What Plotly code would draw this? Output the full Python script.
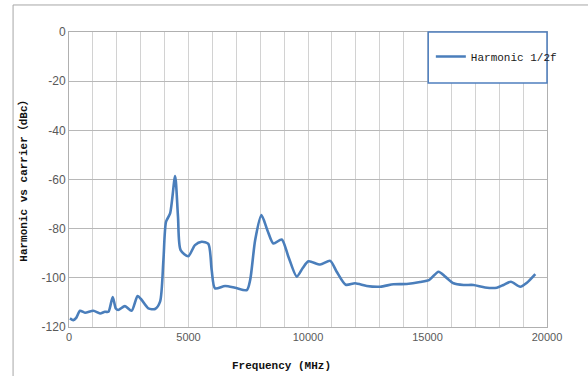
import plotly.graph_objects as go

# Frequency (MHz) and harmonic level (dBc)
freq_mhz = [40, 180, 300, 460, 670, 1020, 1300, 1500, 1650, 1830, 1960, 2060, 2340, 2620,
            2870, 3040, 3320, 3600, 3810, 3950, 4060, 4230, 4440, 4560, 4670, 4990,
            5270, 5550, 5830, 5970, 6110, 6530, 6950, 7440, 7580, 7790, 8050, 8300,
            8550, 8900, 9180, 9530, 9780, 10020, 10510, 10930, 11200, 11580, 11970,
            12460, 13020, 13580, 14130, 14690, 15080, 15460, 15740, 16090, 16510,
            16920, 17410, 17900, 18180, 18490, 18880, 19160, 19510]
level_dbc = [-116.5, -117.2, -116.3, -113.4, -114.2, -113.4, -114.5, -113.8, -113.8, -107.8,
             -112.5, -113.1, -111.5, -113.4, -107.4, -109.0, -112.4, -112.7, -109.7,
             -92.8, -77.2, -73.8, -58.6, -75.0, -88.7, -91.2, -86.7, -85.3, -86.2,
             -96.8, -104.3, -103.3, -104.0, -105.0, -100.9, -84.6, -74.5, -80.6, -86.0,
             -84.4, -91.4, -99.5, -96.0, -93.3, -94.6, -93.1, -97.5, -102.8, -102.2,
             -103.3, -103.6, -102.6, -102.5, -101.7, -100.8, -97.5, -99.5, -102.2,
             -102.9, -102.9, -103.9, -104.0, -102.9, -101.6, -103.6, -102.0, -98.5]

series_name = "Harmonic 1/2f"
y_ticks = [0, -20, -40, -60, -80, -100, -120]
y_tick_text = [str(v) for v in y_ticks]
x_ticks = [0, 5000, 10000, 15000, 20000]
x_tick_text = [str(v) for v in x_ticks]

fig = go.Figure()
fig.add_trace(go.Scatter(
    x=freq_mhz, y=level_dbc, mode="lines", name=series_name,
    line=dict(color="#4a7ebb", width=2.6, shape="spline", smoothing=0.7),
))

grid_h = "#b8b8b8"
grid_v = "#d2d2d2"

fig.update_layout(
    width=588, height=376,
    margin=dict(l=69, r=41, t=32, b=49),
    paper_bgcolor="white", plot_bgcolor="white",
    showlegend=True,
    legend=dict(
        x=0.757, y=0.966, xanchor="left", yanchor="top",
        bgcolor="rgba(0,0,0,0)", borderwidth=0,
        font=dict(family="Liberation Mono", size=11, color="#1a1a1a"),
        itemwidth=30,
    ),
    xaxis=dict(
        range=[0, 20000], tickmode="array", tickvals=x_ticks, ticktext=x_tick_text,
        showgrid=True, gridcolor=grid_v, gridwidth=1,
        minor=dict(dtick=1000, showgrid=True, gridcolor=grid_v, gridwidth=1),
        showline=True, linecolor="#b0b0b0", mirror=True, linewidth=1,
        ticks="", zeroline=False,
        tickfont=dict(family="Liberation Sans", size=11, color="#595959"),
    ),
    yaxis=dict(
        range=[-120, 0], tickmode="array", tickvals=y_ticks, ticktext=y_tick_text,
        showgrid=True, gridcolor=grid_h, gridwidth=1,
        showline=True, linecolor="#b0b0b0", mirror=True, linewidth=1,
        ticks="", zeroline=False,
        tickfont=dict(family="Liberation Sans", size=12, color="#595959"),
    ),
    annotations=[
        dict(text="<b>Frequency (MHz)</b>", xref="paper", yref="paper",
             x=0.4438, y=-0.133, xanchor="center", yanchor="middle", showarrow=False,
             font=dict(family="Liberation Mono, Noto Sans CJK SC", size=11, color="#111111")),
        dict(text="<b>Harmonic vs carrier（dBc）</b>", xref="paper", yref="paper",
             x=-0.094, y=0.503, xanchor="center", yanchor="middle", showarrow=False,
             textangle=-90,
             font=dict(family="Liberation Mono, Noto Sans CJK SC", size=11, color="#111111")),
    ],
    shapes=[
        # outer chart frame
        dict(type="rect", xref="paper", yref="paper", x0=-0.117, x1=1.2, y0=-0.3, y1=1.0916,
             line=dict(color="#a6a6a6", width=1), fillcolor="rgba(0,0,0,0)", layer="below"),
        # legend box
        dict(type="rect", xref="paper", yref="paper", x0=0.7515, x1=1.0, y0=0.827, y1=1.0,
             line=dict(color="#4f7fbf", width=1.5), fillcolor="white", layer="above"),
    ],
)

fig.write_html("out.html")
